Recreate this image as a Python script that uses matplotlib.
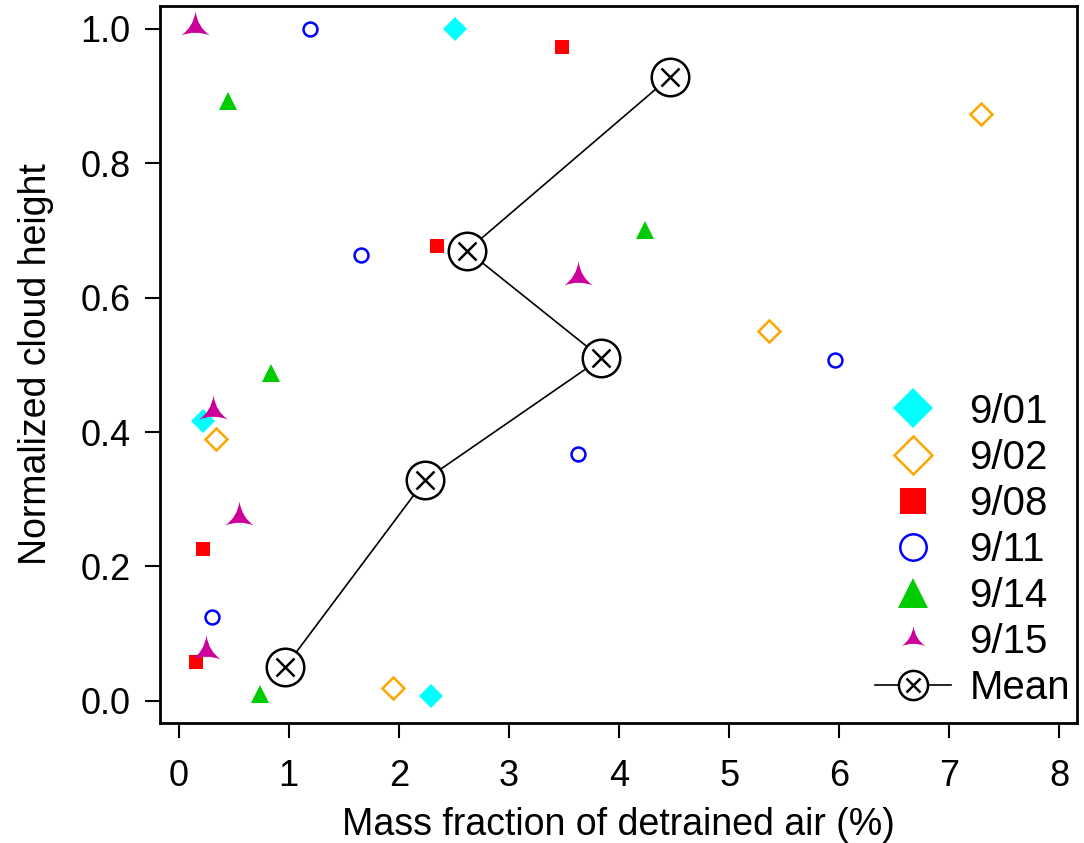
import matplotlib
matplotlib.use("Agg")
import matplotlib.pyplot as plt
from matplotlib.path import Path
from matplotlib.lines import Line2D
from matplotlib.legend_handler import HandlerTuple

plt.rcParams['font.family'] = ['Liberation Sans', 'DejaVu Sans']

# Data
x_0901 = [2.51, 0.22, 2.29]
y_0901 = [1.00, 0.417, 0.007]
x_0902 = [7.29, 5.36, 0.34, 1.95]
y_0902 = [0.873, 0.551, 0.390, 0.019]
x_0908 = [3.48, 2.35, 0.22, 0.155]
y_0908 = [0.973, 0.677, 0.226, 0.058]
x_0911 = [1.19, 1.66, 5.96, 3.63, 0.30]
y_0911 = [1.00, 0.664, 0.507, 0.368, 0.125]
x_0914 = [0.45, 4.24, 0.84, 0.74]
y_0914 = [0.893, 0.700, 0.488, 0.010]
x_0915 = [0.145, 3.63, 0.31, 0.55, 0.25]
y_0915 = [1.003, 0.631, 0.432, 0.274, 0.074]
x_mean = [4.46, 2.62, 3.84, 2.24, 0.97]
y_mean = [0.928, 0.670, 0.510, 0.329, 0.051]

xticks = [0, 1, 2, 3, 4, 5, 6, 7, 8]
yticks = [0.0, 0.2, 0.4, 0.6, 0.8, 1.0]

# custom three-pointed concave star marker
verts = [(0, 1.0), (0.15, 0.0), (0.9, -0.5), (0.0, -0.15), (-0.9, -0.5), (-0.15, 0.0), (0, 1.0)]
codes = [Path.MOVETO, Path.CURVE3, Path.CURVE3, Path.CURVE3, Path.CURVE3, Path.CURVE3, Path.CURVE3]
star3 = Path(verts, codes)

fig = plt.figure(figsize=(10.84, 8.43), dpi=100)
ax = fig.add_axes([0.1476, 0.1423, 0.8459, 0.8506])

ax.plot(x_0901, y_0901, ls='none', marker='D', ms=12, mfc='#00FFFF', mec='#00FFFF', mew=0)
ax.plot(x_0902, y_0902, ls='none', marker='D', ms=11, mfc='none', mec='#FFA500', mew=1.8)
ax.plot(x_0908, y_0908, ls='none', marker='s', ms=10, mfc='#FF0000', mec='#FF0000', mew=0)
ax.plot(x_0911, y_0911, ls='none', marker='o', ms=10, mfc='none', mec='#0000FF', mew=1.8)
ax.plot(x_0914, y_0914, ls='none', marker='^', ms=13, mfc='#00CC00', mec='#00CC00', mew=0)
ax.plot(x_0915, y_0915, ls='none', marker=star3, ms=23, mfc='#CC0099', mec='#CC0099', mew=0)
ax.plot(x_mean, y_mean, color='black', lw=1.2, marker='o', ms=27, mfc='white', mec='black', mew=1.8, zorder=3)
ax.plot(x_mean, y_mean, ls='none', marker='x', ms=13, mec='black', mew=1.8, zorder=4)

ax.set_xlim(-0.17, 8.16)
ax.set_ylim(-0.033, 1.034)
ax.set_xticks(xticks)
ax.set_xticklabels([str(t) for t in xticks])
ax.set_yticks(yticks)
ax.set_yticklabels([f"{t:.1f}" for t in yticks])
ax.tick_params(direction='out', length=11, width=1.5, labelsize=26)
ax.tick_params(axis='x', pad=15)
ax.tick_params(axis='y', pad=10)
for s in ax.spines.values():
    s.set_linewidth(2)
ax.set_xlabel('Mass fraction of detrained air (%)', fontsize=27, labelpad=9)
ax.set_ylabel('Normalized cloud height', fontsize=27, labelpad=19)

h1 = Line2D([], [], ls='none', marker='D', ms=20, mfc='#00FFFF', mec='#00FFFF', mew=0)
h2 = Line2D([], [], ls='none', marker='D', ms=19, mfc='none', mec='#FFA500', mew=1.8)
h3 = Line2D([], [], ls='none', marker='s', ms=19, mfc='#FF0000', mec='#FF0000', mew=0)
h4 = Line2D([], [], ls='none', marker='o', ms=19, mfc='none', mec='#0000FF', mew=1.8)
h5 = Line2D([], [], ls='none', marker='^', ms=22, mfc='#00CC00', mec='#00CC00', mew=0)
h6 = Line2D([], [], ls='none', marker=star3, ms=19, mfc='#CC0099', mec='#CC0099', mew=0)
h7a = Line2D([], [], color='black', lw=1.2, marker='o', ms=21, mfc='white', mec='black', mew=1.8)
h7b = Line2D([], [], ls='none', marker='x', ms=10, mec='black', mew=1.8)
leg = ax.legend([h1, h2, h3, h4, h5, h6, (h7a, h7b)],
                ['9/01', '9/02', '9/08', '9/11', '9/14', '9/15', 'Mean'],
                handler_map={tuple: HandlerTuple(ndivide=1, pad=0)},
                loc='lower right', frameon=False, fontsize=29, handlelength=1.9,
                handletextpad=0.45, labelspacing=0.2, borderaxespad=0.0,
                bbox_to_anchor=(1.01, 0.0))

fig.savefig('out.png', dpi=100)
